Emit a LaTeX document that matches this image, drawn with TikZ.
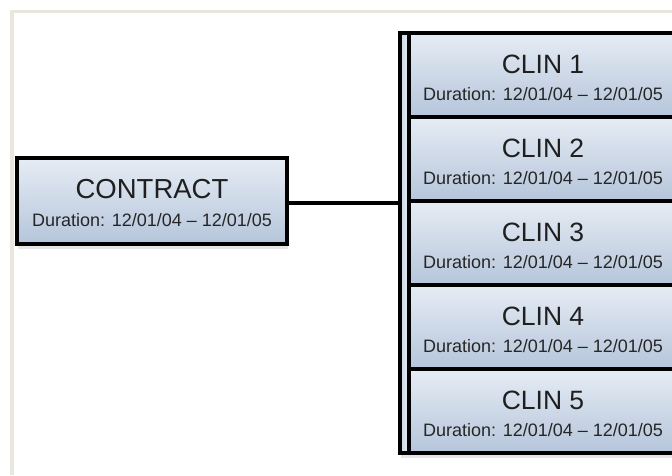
\documentclass[tikz,border=0pt]{standalone}
\usepackage{fontspec}
\setmainfont{Liberation Sans}
\usetikzlibrary{shadows}
\definecolor{boxtop}{HTML}{E6ECF4}
\definecolor{boxbot}{HTML}{B5C5DB}
\definecolor{framebeige}{HTML}{E9E7DC}

\begin{document}
\begin{tikzpicture}[x=1pt,y=-1pt,
  box/.style={draw=black,line width=3.5pt,top color=boxtop,bottom color=boxbot,
    minimum width=268pt,minimum height=84pt,inner sep=0pt,
    drop shadow={shadow xshift=1pt,shadow yshift=-5pt,opacity=.2}},
  title/.style={anchor=base,font=\fontsize{26.5}{29}\selectfont,text=black!88},
  dur/.style={anchor=base,font=\fontsize{18}{20}\selectfont,text=black!85}]
\useasboundingbox (0,0) rectangle (672,475);
\clip (0,0) rectangle (672,475);
% frame
\fill[framebeige] (10,10) rectangle (672,13);
\fill[framebeige] (10,10) rectangle (14,475);

% contract box
\node[box,minimum width=270pt,minimum height=86pt] (contract) at (152,201) {};
\node[title,font=\fontsize{27.5}{30}\selectfont] (contract-title) at ([yshift=3pt]contract.center) {CONTRACT};
\node[dur] (contract-dur) at ([yshift=-25pt]contract.center) {Duration: 12/01/04 -- 12/01/05};

% bar and clins
\node[box,left color=boxbot!70,right color=boxtop,minimum width=9pt,minimum height=420pt] (bar) at (404.5,243) {};
\foreach \i in {1,...,5}{
  \node[box] (clin\i) at (543,{75+84*(\i-1)}) {};
  \node[title] (clin\i-title) at ([yshift=1.5pt]clin\i.center) {CLIN \i};
  \node[dur] (clin\i-dur) at ([yshift=-25pt]clin\i.center) {Duration: 12/01/04 -- 12/01/05};
}
\draw[line width=3.5pt] ([yshift=-2pt]contract.east) -- ([yshift=-2pt]contract.east -| bar.west);
\end{tikzpicture}
\end{document}
